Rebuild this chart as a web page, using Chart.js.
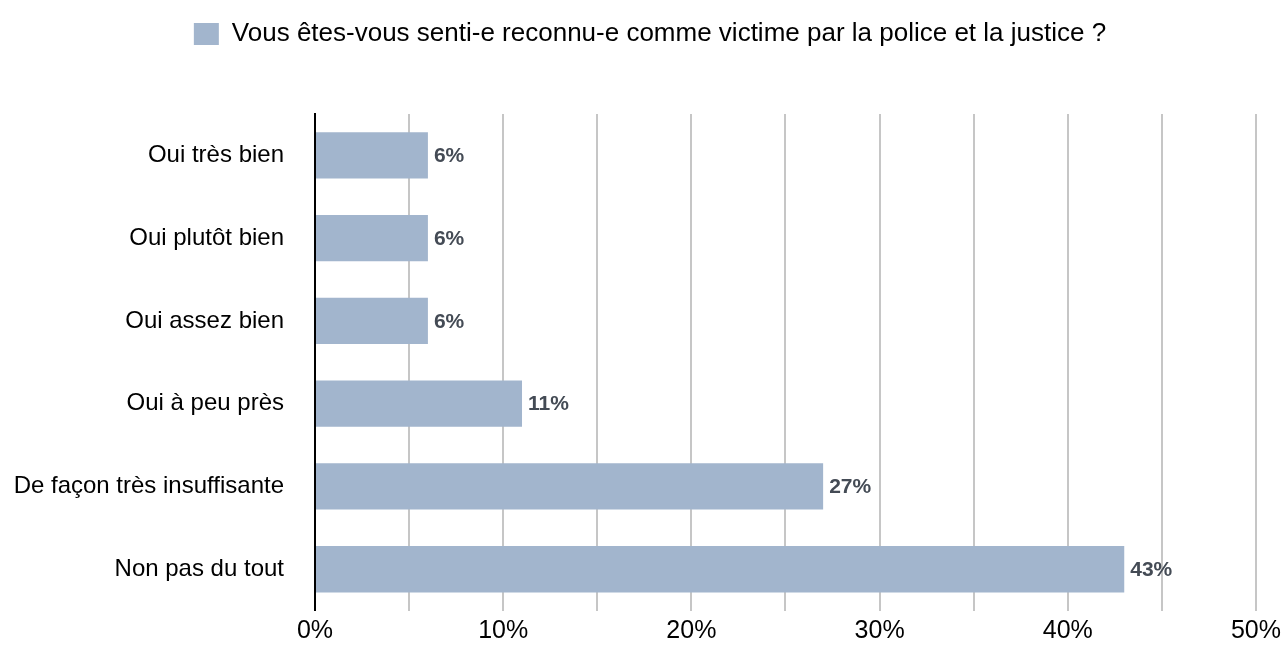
<!DOCTYPE html>
<html>
<head>
<meta charset="utf-8">
<script src="https://cdn.jsdelivr.net/npm/chart.js@4"></script>
<style>
  body { margin: 0; background: #fff; }
  #wrap { width: 1287px; height: 648px; }
</style>
</head>
<body>
<div id="wrap"><canvas id="victimChart"></canvas></div>
<script>
const categories = ["Oui très bien", "Oui plutôt bien", "Oui assez bien", "Oui à peu près", "De façon très insuffisante", "Non pas du tout"];
const percentValues = [6, 6, 6, 11, 27, 43];
const seriesLabel = "Vous êtes-vous senti-e reconnu-e comme victime par la police et la justice ?";

const fontFamily = "'Liberation Sans', Arial, sans-serif";

// draws the "6%" style labels at the end of every bar
const barValueLabels = {
    id: "barValueLabels",
    afterDatasetsDraw(chart) {
        const ctx = chart.ctx;
        const meta = chart.getDatasetMeta(0);
        ctx.save();
        ctx.font = "bold 21px " + fontFamily;
        ctx.fillStyle = "#444b55";
        ctx.textAlign = "left";
        ctx.textBaseline = "middle";
        meta.data.forEach((bar, i) => {
            ctx.fillText(percentValues[i] + "%", bar.x + 6, bar.y + 1);
        });
        ctx.restore();
    }
};

// extra room under the legend, and nudge it a bit to the right
const legendSpacer = {
    id: "legendSpacer",
    beforeInit(chart) {
        const fit = chart.legend.fit;
        chart.legend.fit = function () {
            fit.bind(chart.legend)();
            this.height += 57;
        };
    },
    afterLayout(chart) {
        chart.legend.left += 21;
        chart.legend.right += 21;
    }
};

const victimChart = new Chart(document.getElementById("victimChart"), {
    type: "bar",
    data: {
        labels: categories,
        datasets: [{
            label: seriesLabel,
            data: percentValues,
            backgroundColor: "#a2b5cd",
            barPercentage: 0.56,
            categoryPercentage: 1
        }]
    },
    plugins: [barValueLabels, legendSpacer],
    options: {
        indexAxis: "y",
        responsive: true,
        maintainAspectRatio: false,
        animation: false,
        layout: { padding: { top: 0, right: 29, left: 0, bottom: 0 } },
        plugins: {
            legend: {
                position: "top",
                labels: {
                    boxWidth: 25,
                    boxHeight: 22,
                    color: "#000",
                    padding: 21,
                    font: { family: fontFamily, size: 26 }
                }
            },
            tooltip: { enabled: false }
        },
        scales: {
            x: {
                min: 0,
                max: 50,
                afterFit: scale => { scale.height = 37; },
                ticks: {
                    stepSize: 5,
                    color: "#000",
                    padding: 6,
                    maxRotation: 0,
                    autoSkip: false,
                    font: { family: fontFamily, size: 25 },
                    callback: v => (v % 10 === 0 ? v + "%" : "")
                },
                grid: { color: "#c6c6c6", lineWidth: 2, drawTicks: false },
                border: { display: false }
            },
            y: {
                afterFit: scale => { scale.width = 315; },
                ticks: {
                    color: "#000",
                    padding: 23,
                    font: { family: fontFamily, size: 24 }
                },
                grid: { display: false },
                border: { color: "#000", width: 2 }
            }
        }
    }
});
</script>
</body>
</html>
